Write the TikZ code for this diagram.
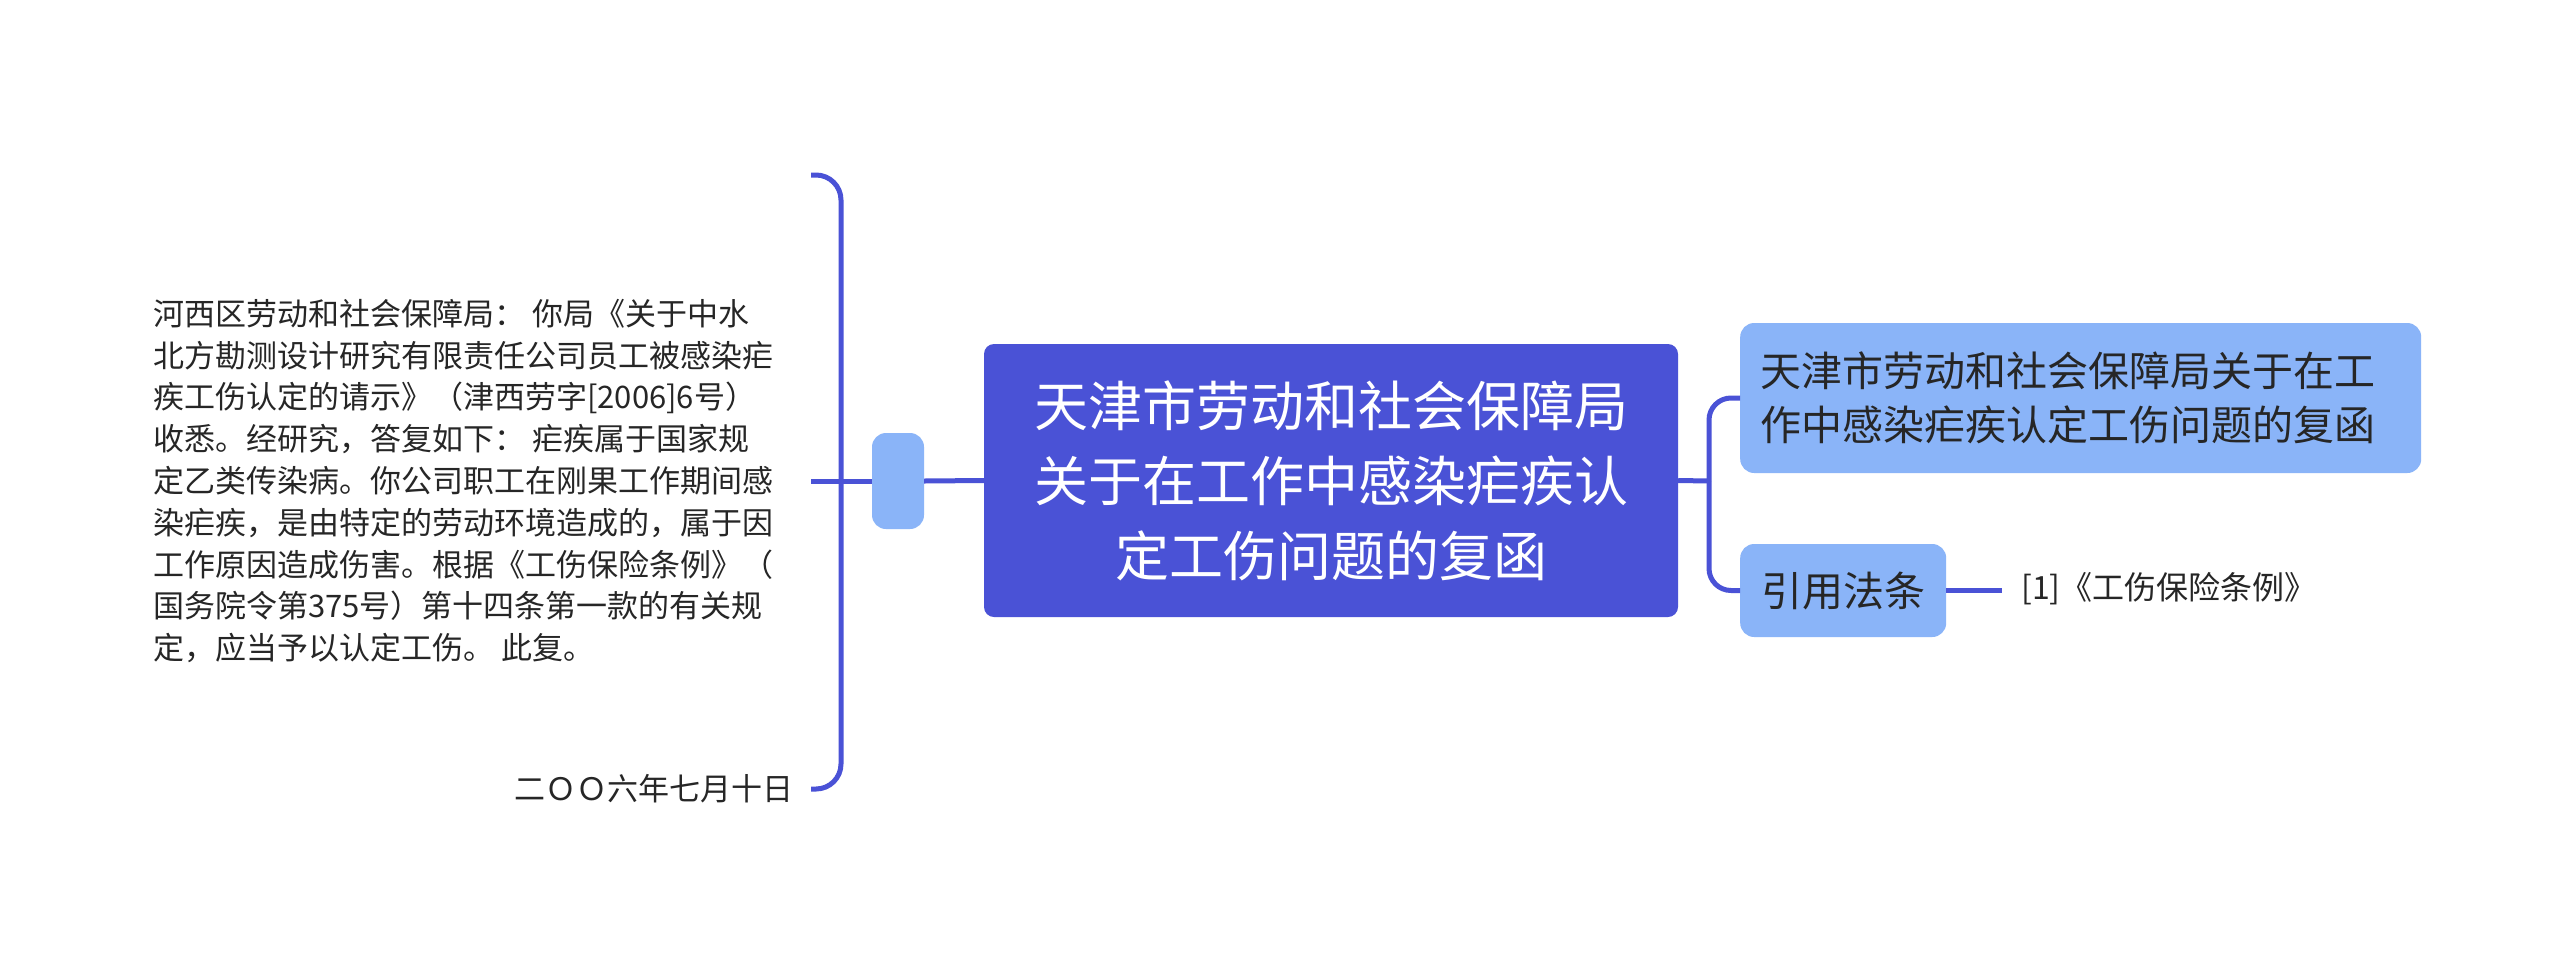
\documentclass[tikz,border=0pt]{standalone}
\usepackage{fontspec}
\setmainfont{Noto Sans CJK SC}
\definecolor{lineblue}{HTML}{4A52D6}
\definecolor{rootblue}{HTML}{4A52D6}
\definecolor{lightblue}{HTML}{8AB4F8}
\definecolor{textdark}{HTML}{262626}
\begin{document}
\begin{tikzpicture}[x=1pt,y=-1pt,
  conn/.style={draw=lineblue, line width=5pt},
  rootbox/.style={fill=rootblue, draw=none, rounded corners=10pt, text=white,
    font=\fontsize{54}{75}\selectfont, align=center, inner sep=0pt},
  lightbox/.style={fill=lightblue, draw=none, rounded corners=14pt, text=textdark,
    inner sep=0pt},
  plain/.style={text=textdark, inner sep=0pt, font=\fontsize{31}{41.8}\selectfont}
]
\useasboundingbox (0,0) rectangle (2560,962);
\fill[white] (0,0) rectangle (2560,962);

% root
\node[rootbox, minimum width=694pt, minimum height=273pt] (root) at (1331,480.5)
  {天津市劳动和社会保障局\\关于在工作中感染疟疾认\\定工伤问题的复函};

% small connector node
\node[lightbox, minimum width=52pt, minimum height=96pt] (small) at (898,481) {};

% left texts
\node[plain, anchor=west, align=left] (body) at (153,481)
 {河西区劳动和社会保障局：\ 你局《关于中水\\
  北方勘测设计研究有限责任公司员工被感染疟\\
  疾工伤认定的请示》（津西劳字[2006]6号）\\
  收悉。经研究，答复如下：\ 疟疾属于国家规\\
  定乙类传染病。你公司职工在刚果工作期间感\\
  染疟疾，是由特定的劳动环境造成的，属于因\\
  工作原因造成伤害。根据《工伤保险条例》（\\
  国务院令第375号）第十四条第一款的有关规\\
  定，应当予以认定工伤。\ 此复。};
\node[plain, anchor=east] (date) at (794,789) {二ＯＯ六年七月十日};

% left bracket
\coordinate (bt) at (811,175);
\coordinate (bm) at (811,481);
\coordinate (bb) at (811,789);
\draw[conn, rounded corners=25pt] (bt) -- (841,175) -- (841,789) -- (bb);
\draw[conn] (bm) -- (small.west);
\draw[conn] (small.east) -- (root.west);

% right nodes
\node[lightbox, anchor=west, minimum width=681pt, minimum height=150pt,
  text width=641pt, inner xsep=20pt, align=left,
  font=\fontsize{41}{54}\selectfont] (n1) at (1740,398)
  {天津市劳动和社会保障局关于在工\\作中感染疟疾认定工伤问题的复函};
\node[lightbox, anchor=west, minimum width=206pt, minimum height=93pt,
  font=\fontsize{41}{54}\selectfont] (n2) at (1740,590.5) {引用法条};
\node[plain, anchor=west, font=\fontsize{32}{42}\selectfont] (ref) at (2021,589) {[1]《工伤保险条例》};

\coordinate (jr) at (1709,481);
\draw[conn] (root.east) -- (jr);
\draw[conn, rounded corners=22pt] (jr) |- (n1.west);
\draw[conn, rounded corners=22pt] (jr) |- (n2.west);
\draw[conn] (n2.east) -- (2002,590.5);
\end{tikzpicture}
\end{document}
